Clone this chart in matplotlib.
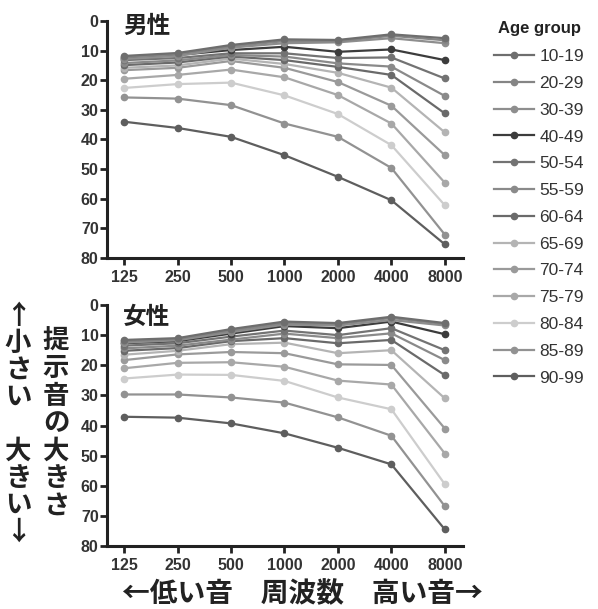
import numpy as np
import matplotlib.pyplot as plt

plt.rcParams['font.family'] = ['Liberation Sans', 'Noto Sans CJK JP', 'DejaVu Sans']

freqs = ['125', '250', '500', '1000', '2000', '4000', '8000']
age_groups = ['10-19', '20-29', '30-39', '40-49', '50-54', '55-59', '60-64',
              '65-69', '70-74', '75-79', '80-84', '85-89', '90-99']
colors = ['#6e6e6e', '#858585', '#8e8e8e', '#3c3c3c', '#737373', '#8a8a8a',
          '#6a6a6a', '#b4b4b4', '#9a9a9a', '#a8a8a8', '#cdcdcd', '#929292',
          '#5e5e5e']

# hearing threshold (dB) per age group, men
male = [
    [11.8, 10.8, 8.1, 6.2, 6.4, 4.5, 5.8],
    [12.2, 11.2, 8.5, 6.8, 6.8, 5.0, 6.5],
    [12.8, 11.8, 9.0, 7.5, 7.2, 5.8, 7.5],
    [12.5, 11.5, 9.8, 8.7, 10.4, 9.6, 13.2],
    [13.2, 12.5, 10.9, 10.9, 12.5, 12.3, 19.4],
    [14.2, 13.3, 11.5, 12.0, 14.3, 15.4, 25.3],
    [14.9, 14.0, 12.0, 13.2, 15.5, 18.2, 31.2],
    [15.8, 15.0, 12.7, 14.5, 17.5, 22.5, 37.6],
    [16.6, 15.8, 13.5, 15.8, 20.6, 28.6, 45.3],
    [19.5, 18.2, 16.4, 19.0, 25.0, 34.6, 54.6],
    [22.6, 21.3, 20.8, 25.1, 31.4, 41.9, 62.2],
    [25.8, 26.2, 28.4, 34.6, 39.1, 49.6, 72.1],
    [34.0, 36.1, 39.1, 45.3, 52.6, 60.5, 75.4],
]

# women
female = [
    [11.6, 11.0, 8.0, 5.5, 6.0, 3.9, 6.0],
    [12.0, 11.3, 8.5, 6.0, 6.3, 4.3, 6.3],
    [12.5, 11.7, 9.0, 6.5, 6.8, 5.0, 6.8],
    [12.7, 12.0, 9.5, 7.0, 7.7, 5.5, 9.7],
    [13.5, 12.7, 10.5, 8.5, 10.0, 7.7, 15.0],
    [14.4, 13.5, 11.5, 9.5, 11.0, 9.4, 18.3],
    [15.2, 14.3, 12.0, 11.0, 12.7, 11.6, 23.3],
    [16.5, 15.2, 13.0, 12.5, 16.0, 15.0, 31.0],
    [18.3, 16.4, 15.6, 16.0, 19.7, 19.9, 41.0],
    [21.0, 19.2, 19.0, 20.5, 25.1, 26.4, 49.3],
    [24.4, 23.1, 23.2, 25.2, 30.7, 34.6, 59.5],
    [29.7, 29.7, 30.7, 32.4, 37.3, 43.4, 66.8],
    [37.1, 37.4, 39.3, 42.6, 47.4, 52.9, 74.5],
]

W, H = 598, 609
fig = plt.figure(figsize=(W / 100, H / 100), dpi=100)
ax1 = fig.add_axes([107 / W, 1 - 258 / H, 356 / W, 237 / H])
ax2 = fig.add_axes([107 / W, 1 - 546 / H, 356 / W, 241 / H])

x = np.arange(len(freqs))
handles = []
for ax, data in [(ax1, male), (ax2, female)]:
    for i, vals in enumerate(data):
        ln, = ax.plot(x, vals, color=colors[i], lw=1.6, marker='o', ms=4.5,
                      label=age_groups[i], clip_on=False, zorder=3 + (12 - i) * 0.01)
        if ax is ax1:
            handles.append(ln)
    ax.set_ylim(80, 0)
    ax.set_xlim(-0.32, 6.34)
    ax.set_yticks(range(0, 81, 10))
    ax.set_xticks(x)
    ax.set_xticklabels(freqs)
    for s in ['top', 'right']:
        ax.spines[s].set_visible(False)
    for s in ['left', 'bottom']:
        ax.spines[s].set_linewidth(2.2)
        ax.spines[s].set_color('#222222')
    ax.tick_params(length=5, width=2, color='#222222', labelsize=11.5,
                   labelcolor='#333333')
    ax.tick_params(axis='y', pad=1)
    ax.tick_params(axis='x', pad=4)
    for lab in ax.get_xticklabels() + ax.get_yticklabels():
        lab.set_fontweight('bold')

cjk = ['Noto Sans CJK JP', 'DejaVu Sans']
fig.text(147 / W, 1 - 26 / H, '男性', family=cjk, fontsize=17, weight='bold',
         ha='center', va='center', color='#222222')
fig.text(147 / W, 1 - 317 / H, '女性', family=cjk, fontsize=17, weight='bold',
         ha='center', va='center', color='#222222')

# vertical y-axis label, one character per line
col1 = '↑小さい　大きい↓'
for k, ch in enumerate(col1):
    fig.text(18 / W, 1 - (316 + k * 27) / H, ch, family=cjk, fontsize=19,
             weight='bold', ha='center', va='center', color='#222222')
col2 = '提示音の大きさ'
for k, ch in enumerate(col2):
    fig.text(56 / W, 1 - (341 + k * 27.6) / H, ch, family=cjk, fontsize=19,
             weight='bold', ha='center', va='center', color='#222222')

fig.text(302 / W, 1 - 594 / H, '←低い音　周波数　高い音→', family=cjk,
         fontsize=20, weight='bold', ha='center', va='center', color='#222222')

# legend
fig.text(498 / W, 1 - 28 / H, 'Age group', fontsize=12, weight='bold',
         ha='left', va='center', color='#222222')
leg = fig.legend(handles=handles, labels=age_groups, loc='upper left',
                 bbox_to_anchor=(494 / W, 1 - 49 / H), frameon=False,
                 fontsize=12.5, handlelength=2.3, handletextpad=0.3,
                 labelspacing=0.67, borderaxespad=0, borderpad=0)
for t in leg.get_texts():
    t.set_color('#333333')

fig.savefig('out.png', dpi=100)
